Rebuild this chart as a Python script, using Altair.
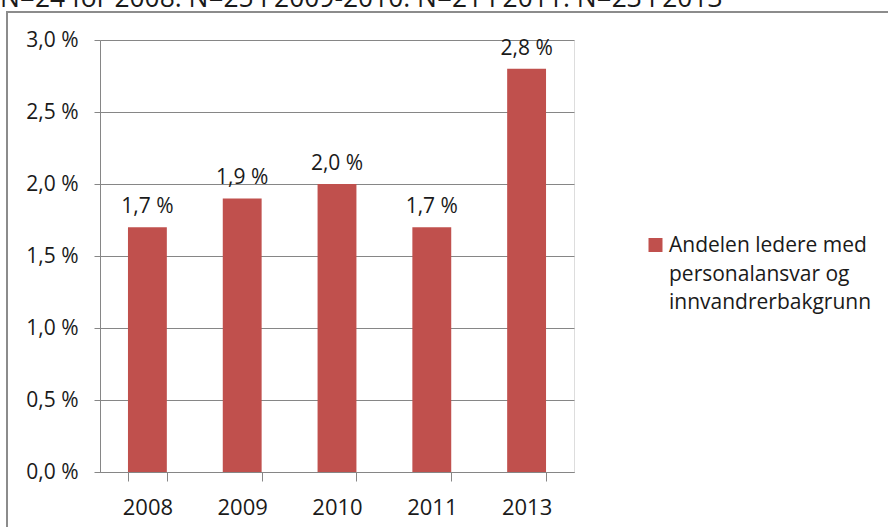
import altair as alt
import pandas as pd

years = ["2008", "2009", "2010", "2011", "2013"]
values = [1.7, 1.9, 2.0, 1.7, 2.8]
series_name = "Andelen ledere med personalansvar og innvandrerbakgrunn"
legend_lines = ["Andelen ledere med", "personalansvar og", "innvandrerbakgrunn"]
note = "N=24 for 2008. N=25 i 2009-2010. N=21 i 2011. N=23 i 2013"
y_ticks = [0, 0.5, 1.0, 1.5, 2.0, 2.5, 3.0]

FONT = "Open Sans"
FS = 21
BAR = "#C0504D"
GRID = "#868686"
TXT = "#1a1a1a"

df = pd.DataFrame({"year": years, "value": values, "series": [series_name] * len(years)})
one = pd.DataFrame({"series": [series_name], "note": [note]})

x_enc = alt.X("year:N", sort=years, title=None,
              scale=alt.Scale(paddingInner=0.59, paddingOuter=0.295),
              axis=alt.Axis(tickBand="extent", labelAngle=0, labelFont=FONT, labelFontSize=22,
                            labelColor=TXT, domainColor=GRID, tickColor=GRID, tickSize=9,
                            labelPadding=16, grid=False, domainWidth=1, tickWidth=1))
y_enc = alt.Y("value:Q", title=None,
              scale=alt.Scale(domain=[0, 3.0], nice=False),
              axis=alt.Axis(values=y_ticks, labelExpr="replace(format(datum.value, '.1f'), '.', ',') + ' %'",
                            labelFont=FONT, labelFontSize=FS, labelColor=TXT, domainColor=GRID,
                            tickColor=GRID, tickSize=6, labelPadding=16, gridColor=GRID,
                            gridWidth=1, domainWidth=1, tickWidth=1))

border = alt.Chart(one).mark_rect(fill="transparent", stroke="#8c8c8c", strokeWidth=2).encode(
    x=alt.value(-93), x2=alt.value(830), y=alt.value(-28), y2=alt.value(520))

bars = alt.Chart(df).mark_bar(color=BAR).encode(x=x_enc, y=y_enc)

labels = alt.Chart(df).transform_calculate(
    label="replace(format(datum.value, '.1f'), '.', ',') + ' %'"
).mark_text(font=FONT, fontSize=FS, color=TXT, baseline="alphabetic", dy=-14).encode(
    x=alt.X("year:N", sort=years), y="value:Q", text="label:N")

leg_sym = alt.Chart(one).mark_square(size=196, color=BAR, opacity=1).encode(
    x=alt.value(555.5), y=alt.value(205))

leg_txt = alt.Chart(one).transform_calculate(
    lbl="'" + "\\n".join(legend_lines) + "'"
).mark_text(font=FONT, fontSize=FS, color=TXT, align="left", baseline="alphabetic",
            lineBreak="\n", lineHeight=28.5).encode(
    x=alt.value(569), y=alt.value(212), text="lbl:N")

note_txt = alt.Chart(one).mark_text(font=FONT, fontSize=26.4, color=TXT, align="left",
                                     baseline="alphabetic").encode(
    x=alt.value(-100), y=alt.value(-33), text="note:N")

chart = alt.layer(border, bars, labels, leg_sym, leg_txt, note_txt).properties(
    width=474, height=432,
    autosize=alt.AutoSizeParams(type="none"),
    padding={"left": 100, "top": 40, "right": 314, "bottom": 55},
).configure_view(stroke=None).configure(background="white")

chart.save("out.html", embed_options={"renderer": "svg", "actions": False})
